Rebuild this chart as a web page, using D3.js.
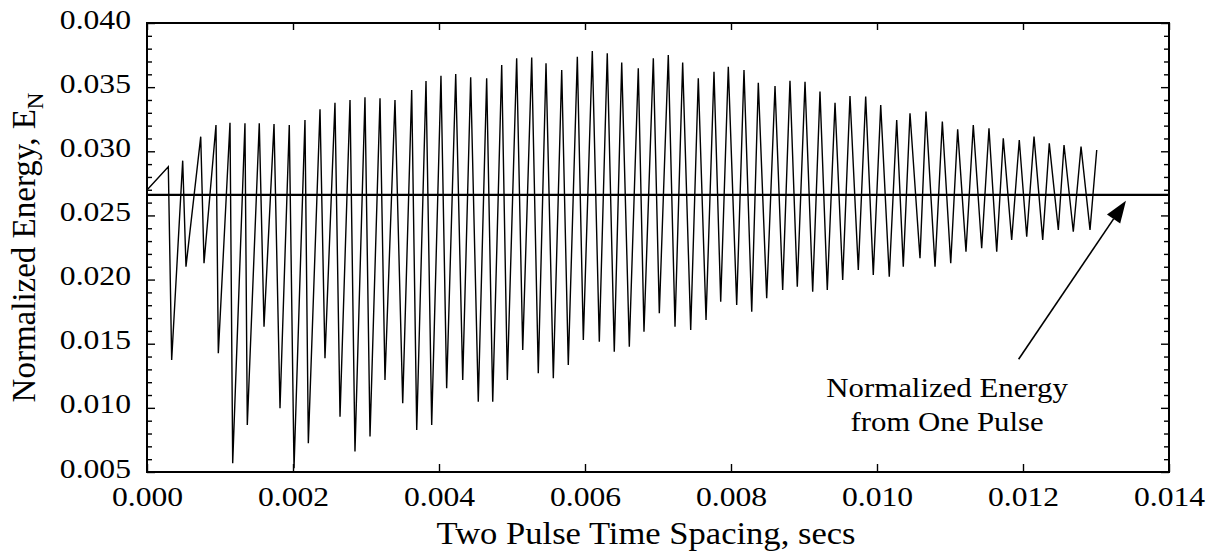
<!DOCTYPE html>
<html>
<head>
<meta charset="utf-8">
<script src="https://cdn.jsdelivr.net/npm/d3@7"></script>
<style>
  html, body { margin: 0; padding: 0; background: #fff; }
  svg { display: block; }
</style>
</head>
<body>
<svg id="chart" width="1217" height="554"></svg>
<script>
// ---- Data ----
const spacingSec = [0.000000, 0.000292, 0.000338, 0.000489, 0.000534, 0.000736, 0.000781, 0.000945, 0.000977, 0.001137, 0.001174, 0.001342, 0.001374, 0.001538, 0.001603, 0.001740, 0.001822, 0.001949, 0.002014, 0.002164, 0.002210, 0.002370, 0.002438, 0.002575, 0.002644, 0.002781, 0.002849, 0.002986, 0.003055, 0.003192, 0.003260, 0.003397, 0.003503, 0.003626, 0.003695, 0.003822, 0.003900, 0.004027, 0.004105, 0.004229, 0.004325, 0.004434, 0.004538, 0.004653, 0.004736, 0.004859, 0.004936, 0.005064, 0.005147, 0.005270, 0.005360, 0.005466, 0.005566, 0.005681, 0.005771, 0.005895, 0.005977, 0.006100, 0.006196, 0.006305, 0.006401, 0.006503, 0.006607, 0.006730, 0.006808, 0.006936, 0.007018, 0.007141, 0.007233, 0.007338, 0.007448, 0.007552, 0.007658, 0.007767, 0.007859, 0.007963, 0.008078, 0.008178, 0.008284, 0.008374, 0.008489, 0.008603, 0.008708, 0.008808, 0.008908, 0.009014, 0.009119, 0.009219, 0.009319, 0.009425, 0.009530, 0.009630, 0.009744, 0.009845, 0.009949, 0.010051, 0.010168, 0.010270, 0.010360, 0.010452, 0.010589, 0.010671, 0.010795, 0.010895, 0.011010, 0.011105, 0.011219, 0.011319, 0.011434, 0.011534, 0.011640, 0.011730, 0.011845, 0.011949, 0.012051, 0.012151, 0.012270, 0.012360, 0.012484, 0.012562, 0.012689, 0.012795, 0.012918, 0.013010];

const energyN = [0.02698, 0.02880, 0.01373, 0.02927, 0.02101, 0.03114, 0.02127, 0.03205, 0.01426, 0.03223, 0.00568, 0.03218, 0.00867, 0.03218, 0.01633, 0.03213, 0.00997, 0.03205, 0.00530, 0.03244, 0.00724, 0.03327, 0.01387, 0.03379, 0.00931, 0.03400, 0.00659, 0.03421, 0.00776, 0.03413, 0.01217, 0.03400, 0.01036, 0.03478, 0.00828, 0.03548, 0.00867, 0.03589, 0.01153, 0.03602, 0.01217, 0.03577, 0.01048, 0.03569, 0.01048, 0.03673, 0.01217, 0.03725, 0.01451, 0.03730, 0.01270, 0.03686, 0.01231, 0.03634, 0.01334, 0.03737, 0.01529, 0.03782, 0.01516, 0.03764, 0.01438, 0.03691, 0.01477, 0.03647, 0.01594, 0.03725, 0.01737, 0.03751, 0.01633, 0.03691, 0.01607, 0.03569, 0.01685, 0.03620, 0.01828, 0.03659, 0.01802, 0.03634, 0.01750, 0.03535, 0.01854, 0.03509, 0.01919, 0.03550, 0.01945, 0.03542, 0.01906, 0.03465, 0.01919, 0.03379, 0.01997, 0.03431, 0.02075, 0.03426, 0.02036, 0.03361, 0.02023, 0.03244, 0.02101, 0.03296, 0.02166, 0.03309, 0.02101, 0.03231, 0.02127, 0.03171, 0.02217, 0.03205, 0.02244, 0.03179, 0.02217, 0.03101, 0.02309, 0.03088, 0.02334, 0.03114, 0.02309, 0.03062, 0.02387, 0.03049, 0.02373, 0.03036, 0.02387, 0.03010];

const onePulseEnergy = 0.0266;

const xTickValues = [0.000, 0.002, 0.004, 0.006, 0.008, 0.010, 0.012, 0.014];
const yTickValues = [0.005, 0.010, 0.015, 0.020, 0.025, 0.030, 0.035, 0.040];
const yMinorTickValues = d3.range(5, 41).filter(v => v % 5 !== 0).map(v => v / 1000);

const xTitle = "Two Pulse Time Spacing, secs";
const yTitleMain = "Normalized Energy, E";
const yTitleSub = "N";
const annotLines = ["Normalized Energy", "from One Pulse"];
const annotX = [0.01096, 0.01096];
const annotY = [0.01085, 0.00820];
const arrowFrom = [0.01194, 0.01379];
const arrowTo = [0.01341, 0.02615];

// ---- Layout ----
const svg = d3.select("#chart");
const plotLeft = 147, plotRight = 1169, plotTop = 23, plotBottom = 472;
const FONT = "'Liberation Serif', 'Times New Roman', serif";

svg.append("rect").attr("width", 1217).attr("height", 554).attr("fill", "#fff");

const x = d3.scaleLinear().domain([0, 0.014]).range([plotLeft, plotRight]);
const y = d3.scaleLinear().domain([0.005, 0.040]).range([plotBottom, plotTop]);

function styleAxis(g, fontSize) {
  g.select(".domain").remove();
  g.selectAll(".tick line").attr("stroke", "#000").attr("stroke-width", 1.4);
  g.selectAll("text").attr("fill", "#000").attr("font-family", FONT).attr("font-size", fontSize);
  g.attr("font-family", FONT);
}

// bottom axis with labels
const gB = svg.append("g").attr("transform", `translate(0,${plotBottom})`)
  .call(d3.axisBottom(x).tickValues(xTickValues).tickSizeInner(-8).tickSizeOuter(0)
    .tickPadding(14).tickFormat(d3.format(".3f")));
styleAxis(gB, 28);
gB.selectAll("text").classed("stretch-tick", true);

// top axis (ticks only)
const gT = svg.append("g").attr("transform", `translate(0,${plotTop})`)
  .call(d3.axisTop(x).tickValues(xTickValues).tickSizeInner(-7).tickSizeOuter(0).tickFormat(""));
styleAxis(gT, 28);

// left axis major with labels
const gL = svg.append("g").attr("transform", `translate(${plotLeft},0)`)
  .call(d3.axisLeft(y).tickValues(yTickValues).tickSizeInner(-8).tickSizeOuter(0)
    .tickPadding(16).tickFormat(d3.format(".3f")));
styleAxis(gL, 28);
gL.selectAll("text").attr("dy", "0.18em").classed("stretch-tick", true);

// left minor
const gLm = svg.append("g").attr("transform", `translate(${plotLeft},0)`)
  .call(d3.axisLeft(y).tickValues(yMinorTickValues).tickSizeInner(-5).tickSizeOuter(0).tickFormat(""));
styleAxis(gLm, 28);

// right axis major + minor
const gR = svg.append("g").attr("transform", `translate(${plotRight},0)`)
  .call(d3.axisRight(y).tickValues(yTickValues).tickSizeInner(-8).tickSizeOuter(0).tickFormat(""));
styleAxis(gR, 28);
const gRm = svg.append("g").attr("transform", `translate(${plotRight},0)`)
  .call(d3.axisRight(y).tickValues(yMinorTickValues).tickSizeInner(-5).tickSizeOuter(0).tickFormat(""));
styleAxis(gRm, 28);

// frame
svg.append("rect")
  .attr("x", x(0)).attr("y", y(0.040))
  .attr("width", x(0.014) - x(0)).attr("height", y(0.005) - y(0.040))
  .attr("fill", "none").attr("stroke", "#000").attr("stroke-width", 2);

// data curve
const pts = spacingSec.map((t, i) => ({ t, e: energyN[i] }));
svg.append("path")
  .datum(pts)
  .attr("fill", "none")
  .attr("stroke", "#000")
  .attr("stroke-width", 1.4)
  .attr("stroke-linejoin", "miter")
  .attr("d", d3.line().x(d => x(d.t)).y(d => y(d.e)));

// one-pulse reference line
svg.append("line")
  .attr("x1", x(0)).attr("x2", x(0.014))
  .attr("y1", y(onePulseEnergy)).attr("y2", y(onePulseEnergy))
  .attr("stroke", "#000").attr("stroke-width", 2.2);

// arrow annotation
const ax1 = x(arrowFrom[0]), ay1 = y(arrowFrom[1]);
const ax2 = x(arrowTo[0]), ay2 = y(arrowTo[1]);
const ang = Math.atan2(ay2 - ay1, ax2 - ax1);
const headLen = 22, headHalf = 8;
const bx = ax2 - headLen * Math.cos(ang), by = ay2 - headLen * Math.sin(ang);
svg.append("line")
  .attr("x1", ax1).attr("y1", ay1).attr("x2", bx).attr("y2", by)
  .attr("stroke", "#000").attr("stroke-width", 1.6);
svg.append("path")
  .attr("d", d3.line()([
    [ax2, ay2],
    [bx + headHalf * Math.sin(ang), by - headHalf * Math.cos(ang)],
    [bx - headHalf * Math.sin(ang), by + headHalf * Math.cos(ang)]
  ]) + "Z")
  .attr("fill", "#000");

// annotation text
annotLines.forEach((s, i) => {
  svg.append("text")
    .attr("x", x(annotX[i])).attr("y", y(annotY[i]))
    .attr("text-anchor", "middle")
    .attr("font-family", FONT).attr("font-size", 28).attr("fill", "#000")
    .classed("stretch-annot", true)
    .text(s);
});

// x title
svg.append("text")
  .attr("x", 646).attr("y", 544)
  .attr("text-anchor", "middle")
  .attr("font-family", FONT).attr("font-size", 32).attr("fill", "#000")
  .classed("stretch-title", true)
  .text(xTitle);

// y title
const yt = svg.append("text")
  .attr("transform", `translate(35,${(plotTop + plotBottom) / 2}) rotate(-90)`)
  .attr("text-anchor", "middle")
  .attr("font-family", FONT).attr("font-size", 33).attr("fill", "#000");
yt.append("tspan").text(yTitleMain);
yt.append("tspan").attr("font-size", 23).attr("dy", 8).text(yTitleSub);

// horizontal stretch to mimic the scanned typeface proportions
function stretch(sel, f) {
  sel.each(function () {
    const w = this.getComputedTextLength();
    d3.select(this).attr("textLength", w * f).attr("lengthAdjust", "spacingAndGlyphs");
  });
}
stretch(svg.selectAll("text.stretch-tick"), 1.13);
stretch(svg.selectAll("text.stretch-annot"), 1.1);
stretch(svg.selectAll("text.stretch-title"), 1.08);
</script>
</body>
</html>
